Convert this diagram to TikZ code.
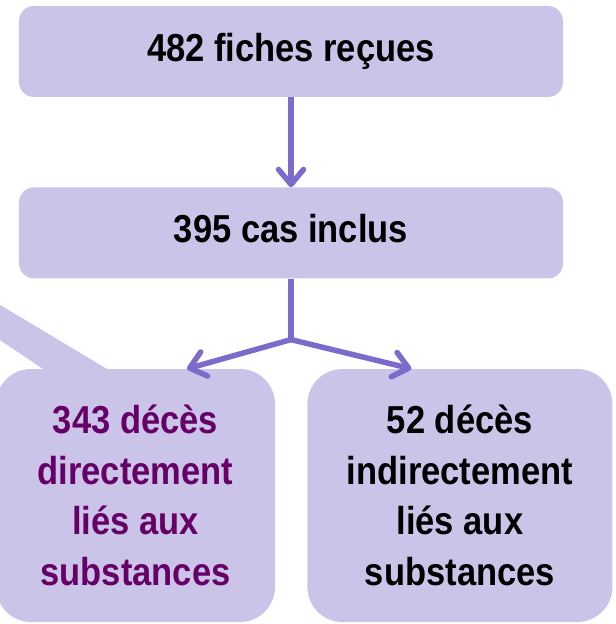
\documentclass[tikz,border=0pt]{standalone}
\usepackage{fontspec}
\setmainfont{Liberation Sans}[FakeStretch=0.885]
\usetikzlibrary{positioning,arrows.meta,calc}
\definecolor{boxfill}{HTML}{CAC4E8}
\definecolor{arrowcol}{HTML}{7C6BCB}
\definecolor{plum}{HTML}{660066}
\tikzstyle{wide} = [rectangle, fill=boxfill, rounded corners=15bp,
    minimum width=544bp, minimum height=91bp, inner sep=0pt,
    text height=28bp, text depth=8bp, font=\fontsize{39bp}{46bp}\selectfont\bfseries]
\tikzstyle{tall} = [rectangle, fill=boxfill, rounded corners=35bp,
    minimum height=253bp, inner sep=0pt, align=center,
    font=\fontsize{39bp}{50.7bp}\selectfont\bfseries]
\tikzstyle{line} = [draw=arrowcol, line width=5.5bp, -{Straight Barb[length=15bp,width=25bp,round]}]

\begin{document}
\begin{tikzpicture}[x=1bp, y=-1bp]
    \useasboundingbox (0,0) rectangle (616,624);
    % Place nodes
    \node [wide] (fiches) at (291,51.5) {482 fiches reçues};
    \node [wide, below=90bp of fiches] (cases) {395 cas inclus};
    \node [tall, minimum width=279bp, text=plum] (direct) at (135.5,495.5) {343 décès\\directement\\liés aux\\substances};
    \node [tall, minimum width=305bp, right=32bp of direct] (indirect) {52 décès\\indirectement\\liés aux\\substances};
    \coordinate [below=61bp of cases] (split);
    \coordinate (ltip) at ($(direct.north)+(51.5,0)$);
    \coordinate (rtip) at ($(indirect.north)+(-48.5,0)$);
    % callout tail
    \fill [boxfill] ($(direct.north west)+(47,0)$) -- ($(direct.north west)+(111,0)$) -- (-60,269) -- (-60,300) -- cycle;
    % Draw edges
    \path [line] (fiches) -- (cases);
    \draw [arrowcol, line width=5.5bp, line join=round] (cases) -- (split);
    \path [line] (split) -- (ltip);
    \path [line] (split) -- (rtip);
\end{tikzpicture}
\end{document}
